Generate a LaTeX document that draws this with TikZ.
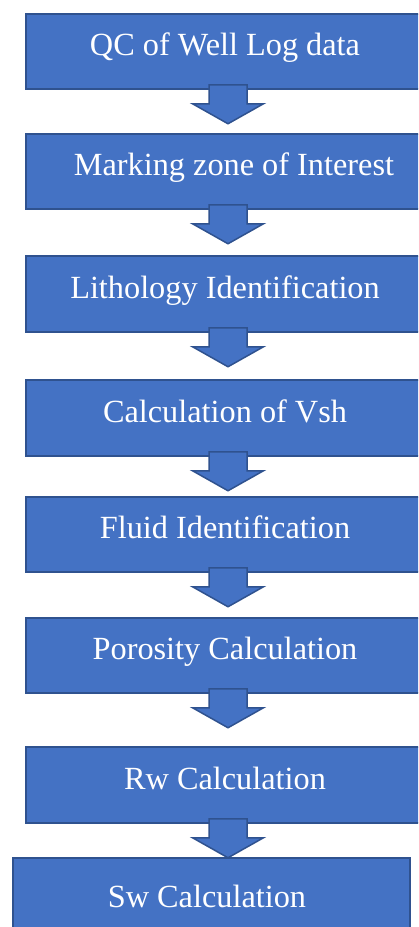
\documentclass[tikz,border=0pt]{standalone}
\usepackage{fontspec}
\setmainfont{Liberation Serif}
\usetikzlibrary{calc}
\definecolor{boxfill}{HTML}{4472C4}
\definecolor{boxline}{HTML}{2F528F}
\tikzset{
  stepbox/.style={draw=boxline, fill=boxfill, line width=1.5pt, rectangle,
    inner sep=0pt, text=white, font=\fontsize{32.3}{38}\selectfont,
    text height=21pt, text depth=13pt, align=center},
  blockarr/.style={draw=boxline, fill=boxfill, line width=1.5pt, line join=miter}
}
\newcommand\blockarrow[1]{%
  \draw[blockarr] ($(#1.south)+(-16,5)$) -- ++(38,0) -- ++(0,-19) -- ++(16.5,0)
    -- ++(-35.5,-20) -- ++(-35.5,20) -- ++(16.5,0) -- cycle;}
\begin{document}
\begin{tikzpicture}[x=1pt,y=1pt]
\useasboundingbox (0,0) rectangle (418,-927);
\clip (0,0) rectangle (418,-927);
\node[stepbox, minimum width=398pt, minimum height=75pt] (b1) at (225,-51.5) {QC of Well Log data};
\node[stepbox, minimum width=398pt, minimum height=75pt] (b2) at (225,-171.5) {\hspace*{18pt}Marking zone of Interest};
\node[stepbox, minimum width=398pt, minimum height=76pt] (b3) at (225,-294) {Lithology Identification};
\node[stepbox, minimum width=398pt, minimum height=76pt] (b4) at (225,-418) {Calculation of Vsh};
\node[stepbox, minimum width=398pt, minimum height=75pt] (b5) at (225,-534.5) {Fluid Identification};
\node[stepbox, minimum width=398pt, minimum height=75pt] (b6) at (225,-655.5) {Porosity Calculation};
\node[stepbox, minimum width=398pt, minimum height=76pt] (b7) at (225,-785) {Rw Calculation};
\node[stepbox, minimum width=397pt, minimum height=90pt] (b8) at (211.5,-903) {\hspace*{-9pt}Sw Calculation};
\blockarrow{b1}
\blockarrow{b2}
\blockarrow{b3}
\blockarrow{b4}
\blockarrow{b5}
\blockarrow{b6}
\blockarrow{b7}
\end{tikzpicture}
\end{document}
